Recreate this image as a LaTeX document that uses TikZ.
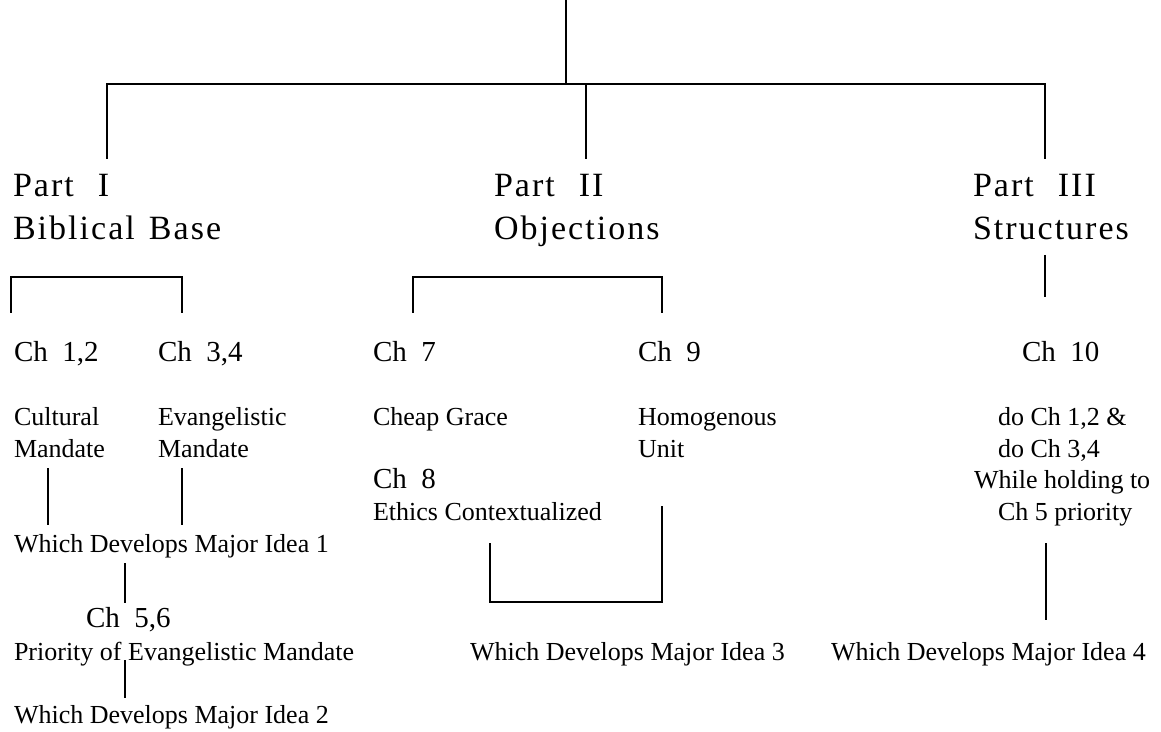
\documentclass[tikz,border=0pt]{standalone}
\usepackage{fontspec}
\setmainfont{Liberation Serif}
\newfontfamily\partfont[LetterSpace=6]{Liberation Serif}
\usepackage{tikz}
\usetikzlibrary{calc}

\begin{document}
\begin{tikzpicture}[x=0.5pt, y=-0.5pt, line width=1pt,
        txt/.style={inner sep=0pt, anchor=base west, font=\fontsize{13}{16}\selectfont},
        chtxt/.style={inner sep=0pt, anchor=base west, font=\fontsize{14.5}{18}\selectfont},
        parttxt/.style={inner sep=0pt, anchor=base west, font=\partfont\fontsize{17}{21}\selectfont}]
            \useasboundingbox (0,0) rectangle (1161,732);

            % top of the tree
            \coordinate (T0) at (566,0);
            \coordinate (T1) at (566,84);
            \coordinate (H1) at (107,84);
            \coordinate (H2) at (586,84);
            \coordinate (H3) at (1045,84);
            \coordinate (P1) at (107,159);
            \coordinate (P2) at (586,159);
            \coordinate (P3) at (1045,159);

            \node[parttxt] (part1) at (12,197) {Part\hspace{12pt}I};
            \node[parttxt] (base1) at (12,240) {Biblical\hspace{7pt}Base};
            \node[parttxt] (part2) at (493,197) {Part\hspace{12pt}II};
            \node[parttxt] (base2) at (493,240) {Objections};
            \node[parttxt] (part3) at (972,197) {Part\hspace{12pt}III};
            \node[parttxt] (base3) at (972,240) {S\kern1pt t\kern1pt r\kern1pt u\kern1pt c\kern1pt t\kern1pt u\kern1pt r\kern1pt e\kern1pt s};

            \draw (T0) -- (T1);
            \draw (P1) -- (H1) -- (H3) -- (P3);
            \draw (H2) -- (P2);

            % Part I
            \coordinate (A1) at (11,313);
            \coordinate (A2) at (11,277);
            \coordinate (A3) at (182,277);
            \coordinate (A4) at (182,313);
            \draw (A1) -- (A2) -- (A3) -- (A4);

            \node[chtxt] (ch12) at (13,362) {Ch\ \ 1,2};
            \node[chtxt] (ch34) at (157,362) {Ch\ \ 3,4};
            \node[txt] (cult1) at (13,425) {Cultural};
            \node[txt] (cult2) at (13,457) {Mandate};
            \node[txt] (evan1) at (157,425) {Evangelistic};
            \node[txt] (evan2) at (157,457) {Mandate};
            \node[txt] (idea1) at (13,552) {Which Develops Major Idea 1};
            \node[chtxt] (ch56) at (85,627) {Ch\ \ 5,6};
            \node[txt] (prio) at (13,660) {Priority of Evangelistic Mandate};
            \node[txt] (idea2) at (13,723) {Which Develops Major Idea 2};

            \coordinate (C1) at (48,468);
            \coordinate (C2) at (48,525);
            \coordinate (E1) at (182,468);
            \coordinate (E2) at (182,525);
            \coordinate (D1) at (125,563);
            \coordinate (D2) at (125,603);
            \coordinate (D3) at (125,660);
            \coordinate (D4) at (125,698);
            \draw (C1) -- (C2);
            \draw (E1) -- (E2);
            \draw (D1) -- (D2);
            \draw (D3) -- (D4);

            % Part II
            \coordinate (B1) at (413,313);
            \coordinate (B2) at (413,277);
            \coordinate (B3) at (662,277);
            \coordinate (B4) at (662,313);
            \draw (B1) -- (B2) -- (B3) -- (B4);

            \node[chtxt] (ch7) at (372,362) {Ch\ \ 7};
            \node[chtxt] (ch9) at (637,362) {Ch\ \ 9};
            \node[txt] (cheap) at (372,425) {Cheap Grace};
            \node[txt] (homo1) at (637,425) {Homogenous};
            \node[txt] (homo2) at (637,457) {Unit};
            \node[chtxt] (ch8) at (372,488) {Ch\ \ 8};
            \node[txt] (ethics) at (372,520) {Ethics Contextualized};
            \node[txt] (idea3) at (469,660) {Which Develops Major Idea 3};

            \coordinate (F1) at (490,543);
            \coordinate (F2) at (490,602);
            \coordinate (F3) at (662,602);
            \coordinate (F4) at (662,506);
            \draw (F1) -- (F2) -- (F3) -- (F4);

            % Part III
            \coordinate (G1) at (1045,255);
            \coordinate (G2) at (1045,297);
            \coordinate (G3) at (1046,543);
            \coordinate (G4) at (1046,620);
            \draw (G1) -- (G2);
            \draw (G3) -- (G4);

            \node[chtxt] (ch10) at (1021,362) {Ch\ \ 10};
            \node[txt] (do1) at (997,425) {do Ch 1,2 \&};
            \node[txt] (do2) at (997,457) {do Ch 3,4};
            \node[txt] (hold) at (973,488) {While holding to};
            \node[txt] (prio5) at (997,520) {Ch 5 priority};
            \node[txt] (idea4) at (830,660) {Which Develops Major Idea 4};
        \end{tikzpicture}
\end{document}
